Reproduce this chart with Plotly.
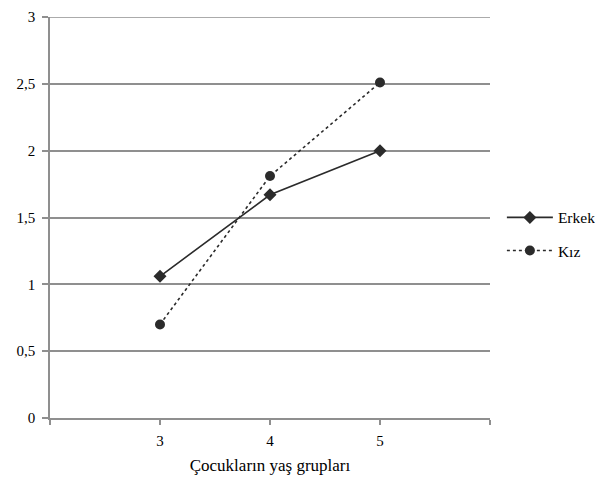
import plotly.graph_objects as go

age_groups = [3, 4, 5]
erkek = [1.06, 1.67, 2.00]
kiz = [0.70, 1.81, 2.51]
x_tick_vals = [2, 3, 4, 5, 6]
x_tick_text = ["", "3", "4", "5", ""]
y_tick_vals = [0, 0.5, 1, 1.5, 2, 2.5, 3]
y_tick_text = ["0", "0,5", "1", "1,5", "2", "2,5", "3"]
y_max = 3

font_family = "Liberation Serif, Times New Roman, serif"
dark = "#2b2b2b"
grid = "#8f8f8f"

fig = go.Figure()
fig.add_trace(go.Scatter(
    x=age_groups, y=erkek, name="Erkek", mode="lines+markers",
    line=dict(color=dark, width=1.6),
    marker=dict(symbol="diamond", size=10, color=dark),
    legendgroup="a",
))
fig.add_trace(go.Scatter(
    x=age_groups, y=kiz, name="Kız", mode="lines+markers",
    line=dict(color=dark, width=1.6, dash="dot"),
    marker=dict(symbol="circle", size=10, color=dark),
    legendgroup="b",
))

# top gridline at the upper end of the y range
fig.add_shape(type="line", xref="paper", yref="y", x0=0, x1=1, y0=y_max, y1=y_max,
              line=dict(color=grid, width=1.5), layer="below")

fig.update_layout(
    width=603, height=481,
    margin=dict(l=42, r=121, t=9, b=71, autoexpand=False),
    paper_bgcolor="white", plot_bgcolor="white",
    font=dict(family=font_family, size=15, color="black"),
    showlegend=True,
    legend=dict(x=1.027, y=0.458, xanchor="left", yanchor="middle",
                traceorder="grouped", tracegroupgap=10,
                font=dict(family=font_family, size=15.5, color="black"),
                itemwidth=46),
    xaxis=dict(range=[2, 6], tickvals=x_tick_vals, ticktext=x_tick_text,
               showgrid=False, zeroline=False, showline=True, automargin=False,
               linecolor=grid, linewidth=1.5, ticks="outside", ticklen=5,
               tickcolor=grid, tickwidth=1.5, ticklabelstandoff=3,
               title=dict(text="Çocukların yaş grupları", standoff=11,
                          font=dict(family=font_family, size=17)),
               tickfont=dict(family=font_family, size=15)),
    yaxis=dict(range=[0, y_max], tickvals=y_tick_vals, ticktext=y_tick_text,
               showgrid=True, gridcolor=grid, gridwidth=1.5, automargin=False,
               zeroline=False, showline=True, linecolor=grid, linewidth=1.5,
               ticks="outside", ticklen=6, tickcolor=grid, tickwidth=1.5,
               ticklabeloverflow="allow", ticklabelstandoff=4,
               tickfont=dict(family=font_family, size=15)),
)

fig.write_html("out.html")
